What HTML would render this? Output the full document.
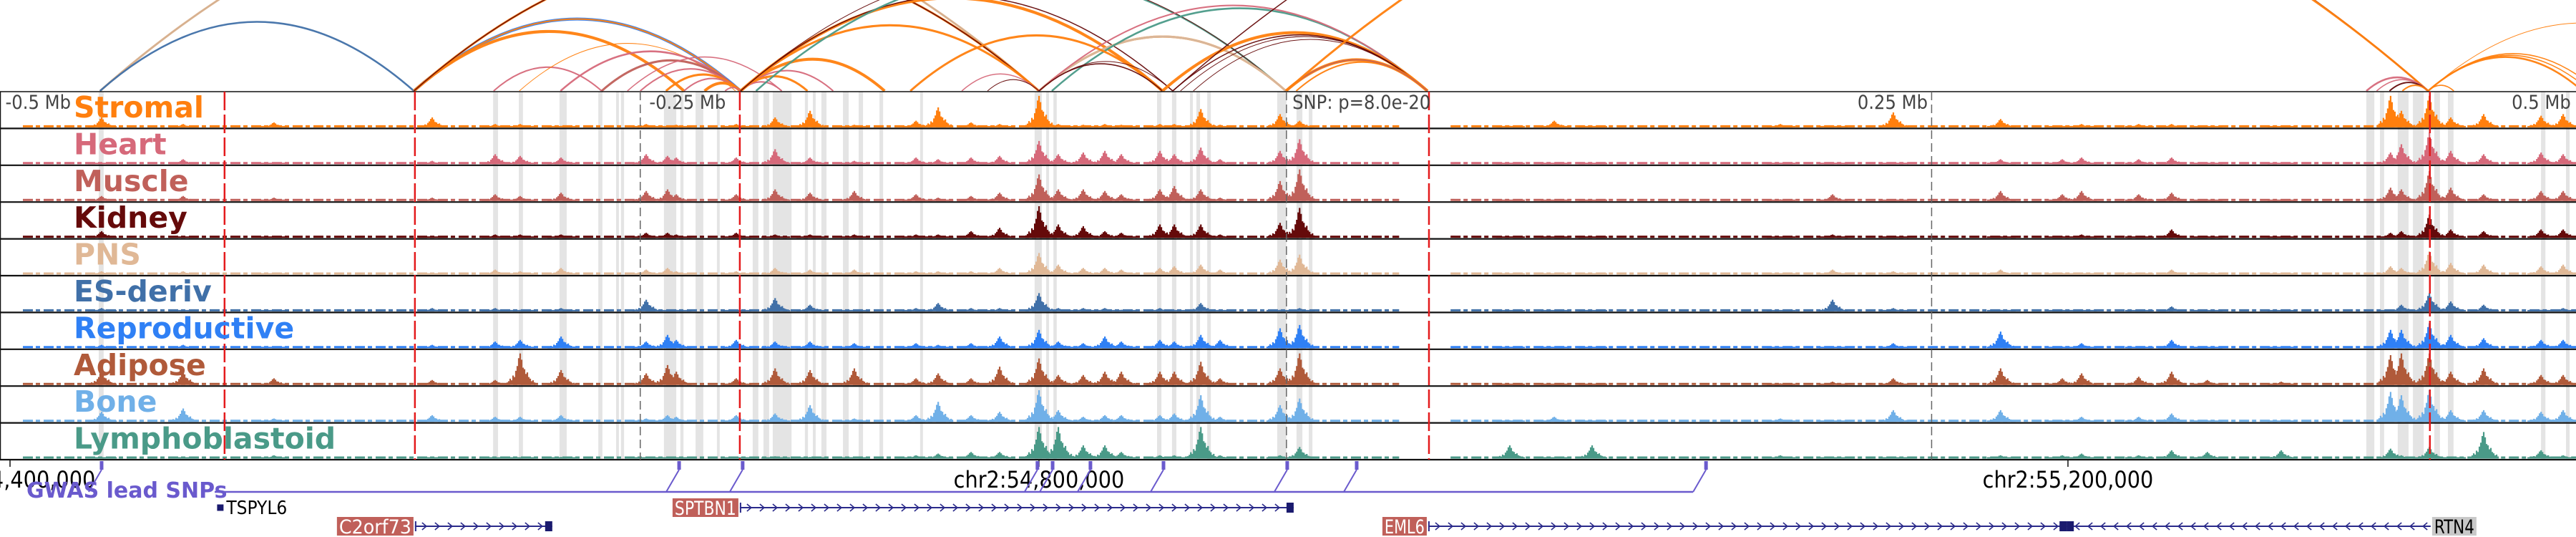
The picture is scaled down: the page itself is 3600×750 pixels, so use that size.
<!DOCTYPE html>
<html><head><meta charset="utf-8">
<style>
html,body{margin:0;padding:0;background:#fff;}
svg{display:block;}
text{font-family:"DejaVu Sans Condensed","DejaVu Sans","Liberation Sans",sans-serif;}
.lab{font-family:"DejaVu Sans","Liberation Sans",sans-serif;font-weight:bold;font-size:39px;}
</style></head>
<body>
<svg id="chart" width="3600" height="750" viewBox="0 0 3600 750" xmlns="http://www.w3.org/2000/svg">
  <g id="shade"></g>
  <g id="arcs"></g>
  <g id="tracks"></g>
  <g id="vlines"></g>
  <g id="labels"></g>
  <g id="axis"></g>
  <g id="snps"></g>
  <g id="genes"></g>
</svg>
<script>
// ---- data (positions in kb from chr2:54,400,000) ----
const trackNames = ["Stromal","Heart","Muscle","Kidney","PNS","ES-deriv","Reproductive","Adipose","Bone","Lymphoblastoid"];
const trackColors = ["#ff7f0e","#d6697a","#c0605a","#650a0a","#e0b896","#4070a8","#2f80f5","#b05a3a","#70b0e8","#4a9a88"];
const peakKb = [35.6,67.3,102.6,164.1,188.6,198.3,214.2,247.3,255.6,259.0,282.3,297.4,311.0,328.2,352.2,360.8,373.6,384.7,400.0,407.5,417.2,425.6,432.0,447.0,452.6,462.9,470.4,493.7,501.3,583.0,600.3,615.0,688.2,708.5,732.1,773.8,797.8,805.3,827.5,840.3,854.2,882.9,925.4,929.6,940.5,948.8,961.6,983.9,992.5];
const hStromal = [.3,.1,.15,.3,.1,.1,.05,.1,.05,.08,.1,.3,.5,.08,.2,.6,.15,.1,.95,.1,.08,.1,.08,.1,.1,.55,.08,.4,.2,.05,.2,.05,.1,.05,.45,.25,.05,.1,.1,.1,.05,.05,.95,.5,.95,.3,.4,.35,.4];
const hHeart = [.05,.15,.05,.1,.3,.25,.2,.3,.25,.2,.2,.45,.2,.1,.2,.15,.2,.25,.7,.3,.35,.4,.3,.4,.3,.5,.15,.4,.75,.02,.03,.03,.02,.02,.05,.15,.15,.2,.15,.2,.05,.05,.35,.6,.95,.4,.3,.35,.3];
const hMuscle = [.15,.15,.1,.1,.2,.15,.25,.3,.35,.2,.2,.35,.25,.3,.2,.1,.15,.25,.8,.35,.35,.3,.2,.35,.45,.35,.1,.6,.95,.02,.03,.03,.05,.2,.05,.3,.2,.3,.2,.25,.05,.05,.4,.35,.9,.4,.2,.3,.3];
const hKidney = [.2,.05,.05,.05,.1,.1,.1,.15,.15,.1,.15,.1,.1,.1,.1,.1,.2,.3,.95,.4,.35,.2,.15,.4,.4,.4,.1,.45,.9,.03,.03,.03,.03,.1,.05,.05,.05,.1,.05,.25,.05,.05,.15,.2,.7,.25,.2,.25,.25];
const hPNS = [.1,.1,.05,.05,.15,.1,.2,.15,.2,.1,.1,.2,.15,.15,.1,.1,.1,.2,.65,.3,.2,.2,.15,.2,.25,.3,.15,.45,.6,.02,.02,.02,.03,.15,.1,.15,.05,.05,.05,.15,.03,.03,.25,.2,.7,.35,.3,.25,.3];
const hES = [.1,.05,.05,.1,.1,.05,.1,.35,.05,.05,.05,.4,.2,.05,.1,.25,.1,.1,.55,.1,.1,.1,.05,.1,.05,.25,.05,.05,.1,.03,.03,.03,.03,.35,.1,.05,.05,.05,.05,.15,.03,.03,.05,.2,.55,.3,.2,.05,.1];
const hRepro = [.1,.1,.05,.1,.2,.25,.35,.2,.4,.25,.25,.2,.2,.15,.15,.1,.15,.35,.55,.2,.15,.35,.2,.25,.2,.4,.25,.6,.7,.03,.03,.03,.03,.05,.15,.5,.05,.15,.05,.25,.03,.03,.55,.55,.75,.4,.3,.25,.25];
const hAdipose = [.4,.4,.2,.15,.15,.95,.45,.35,.6,.4,.2,.5,.45,.5,.2,.35,.2,.55,.8,.3,.3,.4,.4,.4,.4,.7,.2,.5,.95,.03,.03,.03,.05,.1,.2,.5,.2,.35,.25,.4,.15,.1,.9,.95,.95,.4,.5,.3,.3];
const hBone = [.3,.4,.1,.2,.15,.15,.2,.1,.2,.15,.2,.25,.5,.1,.2,.6,.2,.3,.95,.35,.15,.2,.2,.2,.25,.8,.15,.5,.7,.05,.15,.03,.1,.05,.35,.35,.05,.15,.15,.25,.05,.05,.9,.8,.95,.35,.35,.3,.35];
const hLympho = [.05,.05,.1,.03,.03,.03,.05,.03,.05,.03,.03,.07,.05,.05,.1,.15,.2,.2,.95,.95,.4,.4,.2,.1,.1,.95,.1,.1,.35,.4,.03,.4,.1,.03,.05,.1,.1,.15,.1,.25,.2,.25,.3,.1,.35,.05,.8,.25,.1];
const shadeKb = [[34.5,36.4],[187.8,189.7],[197.8,199.4],[213.6,216.4],[228.7,230.3],[235.6,236.7],[237.5,238.7],[254.2,259.0],[260.6,261.8],[266.5,269.5],[274.8,275.9],[288.7,290.9],[292.9,295.1],[296.5,303.8],[309.0,310.2],[312.1,313.2],[315.4,317.4],[323.8,326.0],[329.9,331.6],[338.0,339.4],[353.8,354.9],[398.3,401.1],[402.8,403.9],[405.6,406.9],[445.9,447.6],[451.7,453.4],[458.7,459.8],[461.2,462.6],[465.4,466.8],[492.6,496.2],[500.1,502.4],[504.9,506.3],[916.0,919.1],[921.3,922.9],[928.2,932.4],[934.1,938.3],[942.4,944.6],[947.7,949.9],[983.9,985.6],[993.6,995.0]];
const coverageKb = [[5,540],[560,1000]];
const redLinesKb = [83.4,157.4,283.7,551.6,940.7];
const grayLinesKb = [245.0,496.2,747.0];
const relLabels = ["-0.5 Mb","-0.25 Mb","SNP: p=8.0e-20","0.25 Mb","0.5 Mb"];
const relLabelKb = [-1.8,248.5,498.5,745.5,995.5];
const relAnchor = ["start","start","start","end","end"];
const axisTickKb = [0,400,800];
const axisLabels = ["chr2:54,400,000","chr2:54,800,000","chr2:55,200,000"];
const snpKb = [35.6,260.1,284.8,399.4,405.3,420.0,448.4,496.5,523.5,659.3];
// arcs: start kb, end kb, color index (-1 black), width
const arcStart = [35,35,35,157,157,157,157,157,188,198,214,230,245,255,262,270,278,240,284,284,284,284,284,284,284,290,284,400,400,400,405,400,370,380,350,400,400,448,452,455,460,496,500,496,452,496,916,920,925,930,940,940,940,940,940];
const arcEnd   = [400,400,157,284,284,262,400,400,230,282,284,284,284,284,284,284,284,300,400,340,320,310,300,448,452,496,496,496,496,496,551,551,400,400,448,448,452,551,551,551,551,551,551,551,940,940,940,940,940,940,950,1000,1003,1006,1060];
const arcColor = [-1,4,5,6,0,0,0,3,1,0,1,2,1,0,1,0,1,1,0,0,1,0,1,0,3,9,3,0,6,4,9,1,1,3,0,3,3,0,3,3,3,0,0,2,3,0,1,1,3,0,0,0,0,0,0];
const arcWidth = [2,3,2.5,4,2,4,3,1.5,2,1,2.5,3,2,3,2,4,2,1.5,3,4,2,3,2,4,1.5,2.5,1,3,2,3,2.5,2,1.5,1,3,1.5,1,4,1.5,1,1,4,2,1.5,1.5,3,2.5,1.5,2,2,1.5,2.5,1.5,1.5,1];
// genes
const geneNames = ["TSPYL6","C2orf73","SPTBN1","EML6","RTN4"];
const geneStart = [80.5,157.4,283.7,551.3,799.5];
const geneEnd = [83.0,210.8,499.0,799.5,941.0];
const geneStrand = [1,1,1,1,-1];
const geneRow = [0,1,0,1,1];

// ---- scales ----
const X0 = 14, PXKB = 3.595;
const xs = kb => X0 + kb * PXKB;
const TOP = 128, TH = 51.4, NT = 10, BOT = TOP + TH * NT;
const NS = "http://www.w3.org/2000/svg";
function mk(tag, attrs, parent){ const e=document.createElementNS(NS,tag); for(const k in attrs) e.setAttribute(k,attrs[k]); parent.appendChild(e); return e; }
const G = id => document.getElementById(id);
const heights = [hStromal,hHeart,hMuscle,hKidney,hPNS,hES,hRepro,hAdipose,hBone,hLympho];

// shaded columns
shadeKb.forEach(s=>{
  const r = mk('rect',{x:xs(s[0]),y:TOP,width:Math.max(2,xs(s[1])-xs(s[0])),height:BOT-TOP,fill:'#e4e4e4'},G('shade'));
  
  
});

// arcs
const arcBase = 127;
arcStart.forEach((s,i)=>{
  const x1 = xs(s), x2 = xs(arcEnd[i]);
  const h = 0.22*(x2-x1);
  const col = arcColor[i] < 0 ? '#111' : trackColors[arcColor[i]];
  const p = mk('path',{d:`M${x1},${arcBase} Q${(x1+x2)/2},${arcBase-2*h} ${x2},${arcBase}`,fill:'none',stroke:col,'stroke-width':arcWidth[i],opacity:0.95},G('arcs'));
  
  
});

// tracks
const prof = [.08,.12,.2,.15,.3,.25,.45,.6,.85,1,.8,.55,.5,.35,.4,.25,.2,.12,.15,.08];
const PC = 9;
for(let t=0;t<NT;t++){
  const y0 = TOP + t*TH, base = y0 + TH - 1.5, maxH = TH - 5;
  const g = mk('g',{},G('tracks'));
  
  
  coverageKb.forEach(c=>{
    const l = mk('line',{x1:xs(c[0]),x2:xs(c[1]),y1:base-1.5,y2:base-1.5,stroke:trackColors[t],'stroke-width':3,'stroke-dasharray':'14 4 6 5'},g);
    
    
  });
  let d = '';
  peakKb.forEach((kb,i)=>{
    const v = heights[t][i] || 0.03;
    const cx = xs(kb);
    prof.forEach((m,j)=>{
      const bh = Math.max(2, v*m*maxH);
      const bx = cx + (j-PC)*2 - 1;
      d += `M${bx},${base}h2.2v${-bh}h-2.2z`;
    });
  });
  const p = mk('path',{d:d,fill:trackColors[t]},g);
  
  
}
// track borders
for(let t=0;t<=NT;t++){
  const l = mk('line',{x1:0,x2:3600,y1:TOP+t*TH,y2:TOP+t*TH,stroke:'#111','stroke-width':t==0?1.5:2.2},G('tracks'));
  
  
}
const lb = mk('line',{x1:0.5,x2:0.5,y1:TOP,y2:BOT,stroke:'#111','stroke-width':1.5},G('tracks'));



// vertical marker lines
redLinesKb.forEach(kb=>{
  const l = mk('line',{x1:xs(kb),x2:xs(kb),y1:TOP,y2:BOT,stroke:'#e41a1c','stroke-width':2.5,'stroke-dasharray':'26 6'},G('vlines'));
  
  
});
grayLinesKb.forEach(kb=>{
  const l = mk('line',{x1:xs(kb),x2:xs(kb),y1:TOP,y2:BOT,stroke:'#666','stroke-width':1.5,'stroke-dasharray':'12 6'},G('vlines'));
  
  
});

// relative labels
relLabels.forEach((s,i)=>{
  const tx = mk('text',{x:xs(relLabelKb[i]),y:152,'font-size':27,fill:'#444','text-anchor':relAnchor[i]},G('labels'));
  tx.textContent = s;
  
  
});
// track labels
trackNames.forEach((n,t)=>{
  const tx = mk('text',{x:103,y:TOP+t*TH+36,class:'lab',fill:trackColors[t],style:'font-size:41px'},G('labels'));
  tx.textContent = n;
  
  
});

// axis
axisTickKb.forEach((kb,i)=>{
  const l = mk('line',{x1:xs(kb),x2:xs(kb),y1:BOT,y2:BOT+10,stroke:'#111','stroke-width':1.5},G('axis'));
  
  
  const tx = mk('text',{x:xs(kb),y:681,'font-size':32,fill:'#000','text-anchor':'middle'},G('axis'));
  tx.textContent = axisLabels[i];
  
  
});

// SNP track
const sg = G('snps');
const snpLineY = 687;
const last = xs(snpKb[snpKb.length-1]) - 18;
const hl = mk('line',{x1:300,x2:last,y1:snpLineY,y2:snpLineY,stroke:'#6a5acd','stroke-width':2.5},sg);


snpKb.forEach(kb=>{
  const x = xs(kb);
  const r = mk('rect',{x:x-2.5,y:644,width:5,height:12,fill:'#6a5acd'},sg);
  
  
  const l = mk('line',{x1:x,y1:656,x2:x-18,y2:snpLineY,stroke:'#6a5acd','stroke-width':2},sg);
  
  
});
const gt = mk('text',{x:37,y:695,class:'lab',fill:'#6a5acd',style:'font-size:30px'},sg);
gt.textContent = 'GWAS lead SNPs';



// genes
const gg = G('genes');
geneNames.forEach((n,i)=>{
  const y = geneRow[i]==0 ? 709 : 735;
  const x1 = xs(geneStart[i]), x2 = xs(geneEnd[i]);
  const g = mk('g',{},gg);
  
  
  if(x2 - x1 < 15){
    mk('rect',{x:x1,y:y-4.5,width:x2-x1,height:9,fill:'#1a1a6e'},g);
    const tx = mk('text',{x:x2+4,y:y+9,'font-size':26,fill:'#000'},g);
    tx.textContent = n;
    return;
  }
  mk('line',{x1:x1,x2:x2,y1:y,y2:y,stroke:'#2a2a8a','stroke-width':2},g);
  mk('line',{x1:x1+1,x2:x1+1,y1:y-7,y2:y+7,stroke:'#2a2a8a','stroke-width':2},g);
  let d='';
  for(let x=x1+14; x<x2-8; x+=18){
    d += geneStrand[i]>0 ? `M${x-4},${y-5}L${x+2},${y}L${x-4},${y+5}` : `M${x+4},${y-5}L${x-2},${y}L${x+4},${y+5}`;
  }
  mk('path',{d:d,fill:'none',stroke:'#2a2a8a','stroke-width':1.6},g);
  mk('rect',{x:(geneStrand[i]>0?x2-10:x1),y:y-7,width:10,height:14,fill:'#1a1a6e'},g);
  const label = geneStrand[i]>0;
  const tw = n.length*15 + 2;
  const bx = label ? x1 - tw - 2 : x2 + 2;
  const isRTN = !label;
  mk('rect',{x:bx,y:y-13,width:tw,height:26,fill:isRTN?'#c8c8c8':'#c0605a'},g);
  const tx = mk('text',{x:bx+3,y:y+10,'font-size':27,fill:isRTN?'#000':'#fff',textLength:tw-6,lengthAdjust:'spacingAndGlyphs'},g);
  tx.textContent = n;
});
</script>
</body></html>
